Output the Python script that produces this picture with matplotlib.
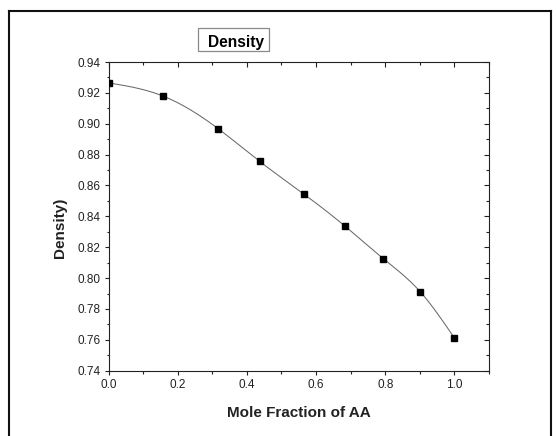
import numpy as np
import matplotlib
matplotlib.use("Agg")
import matplotlib.pyplot as plt
from matplotlib.lines import Line2D
from matplotlib.patches import Rectangle
from matplotlib.ticker import MultipleLocator, FormatStrFormatter

# data
mole_fraction = [0.0, 0.157, 0.317, 0.437, 0.564, 0.684, 0.795, 0.901, 1.0]
density = [0.9265, 0.918, 0.8968, 0.8756, 0.8546, 0.8336, 0.8125, 0.7912, 0.7612]

INK = "#222222"
LINE = "#6a6a6a"


def natural_spline(x, y, n=300):
    """Smooth connecting line through the points (Origin style spline)."""
    x = np.asarray(x, float)
    y = np.asarray(y, float)
    k = len(x)
    h = np.diff(x)
    A = np.zeros((k, k))
    b = np.zeros(k)
    A[0, 0] = A[-1, -1] = 1.0
    for i in range(1, k - 1):
        A[i, i - 1] = h[i - 1]
        A[i, i] = 2 * (h[i - 1] + h[i])
        A[i, i + 1] = h[i]
        b[i] = 3 * ((y[i + 1] - y[i]) / h[i] - (y[i] - y[i - 1]) / h[i - 1])
    c = np.linalg.solve(A, b)
    xs = np.linspace(x[0], x[-1], n)
    idx = np.clip(np.searchsorted(x, xs) - 1, 0, k - 2)
    dx = xs - x[idx]
    bb = (y[idx + 1] - y[idx]) / h[idx] - h[idx] * (2 * c[idx] + c[idx + 1]) / 3
    dd = (c[idx + 1] - c[idx]) / (3 * h[idx])
    ys = y[idx] + bb * dx + c[idx] * dx ** 2 + dd * dx ** 3
    return xs, ys


plt.rcParams.update({"font.family": ["Liberation Sans", "DejaVu Sans"]})

W, H = 557, 436
fig = plt.figure(figsize=(W / 100, H / 100), dpi=100)
fig.patch.set_facecolor("white")

ax = fig.add_axes([108.5 / W, 1 - 370.7 / H, 380.5 / W, 308.7 / H])

xs, ys = natural_spline(mole_fraction, density)
ax.plot(xs, ys, color=LINE, lw=0.75, zorder=2)
ax.plot(mole_fraction, density, ls="none", marker="s", ms=4.6,
        color="black", zorder=3)

ax.set_xlim(0, 1.1)
ax.set_ylim(0.74, 0.94)
ax.xaxis.set_major_locator(MultipleLocator(0.2))
ax.xaxis.set_minor_locator(MultipleLocator(0.1))
ax.yaxis.set_major_locator(MultipleLocator(0.02))
ax.yaxis.set_minor_locator(MultipleLocator(0.01))
ax.xaxis.set_major_formatter(FormatStrFormatter("%.1f"))
ax.yaxis.set_major_formatter(FormatStrFormatter("%.2f"))

for sp in ax.spines.values():
    sp.set_color(INK)
    sp.set_linewidth(0.8)

ax.tick_params(which="both", bottom=True, left=True, top=False, right=False,
               direction="out", colors=INK, labelsize=8.5, width=0.8)
ax.tick_params(which="major", length=3.2, pad=2.5)
ax.tick_params(which="minor", length=1.8)

# inward ticks on the top and right edges (Origin style)
sec_x = ax.secondary_xaxis("top")
sec_y = ax.secondary_yaxis("right")
for sec in (sec_x, sec_y):
    sec.tick_params(which="both", direction="in", colors=INK, width=0.8,
                    labeltop=False, labelright=False)
    sec.tick_params(which="major", length=3.6)
    sec.tick_params(which="minor", length=2.0)
    for sp in sec.spines.values():
        sp.set_visible(False)
sec_x.xaxis.set_major_locator(MultipleLocator(0.2))
sec_x.xaxis.set_minor_locator(MultipleLocator(0.1))
sec_x.set_xticklabels([])
sec_y.yaxis.set_major_locator(MultipleLocator(0.02))
sec_y.yaxis.set_minor_locator(MultipleLocator(0.01))
sec_y.set_yticklabels([])

ax.set_xlabel("Mole Fraction of AA", fontsize=11, fontweight="bold", color=INK)
ax.set_ylabel("Density)", fontsize=11, fontweight="bold", color=INK)
ax.xaxis.set_label_coords(0.5, -0.115)
ax.yaxis.set_label_coords(-0.108, 0.462)

# boxed title
fig.add_artist(Rectangle((198.3 / W, 1 - 50.7 / H), 71 / W, 22.4 / H,
                         transform=fig.transFigure, facecolor="white",
                         edgecolor="#8a8a8a", lw=0.9))
fig.text(235.7 / W, 1 - 46.5 / H, "Density", ha="center", va="baseline",
         fontsize=11.2, fontweight="bold", color="black")

# page frame
frame = dict(transform=fig.transFigure, color="#111111", lw=1.5)
fig.add_artist(Line2D([8.5 / W, 8.5 / W], [0, 1 - 11 / H], **frame))
fig.add_artist(Line2D([8.5 / W, 551 / W], [1 - 11 / H, 1 - 11 / H], **frame))
fig.add_artist(Line2D([551 / W, 551 / W], [0, 1 - 11 / H], **frame))

fig.savefig("out.png", dpi=100, facecolor="white")
